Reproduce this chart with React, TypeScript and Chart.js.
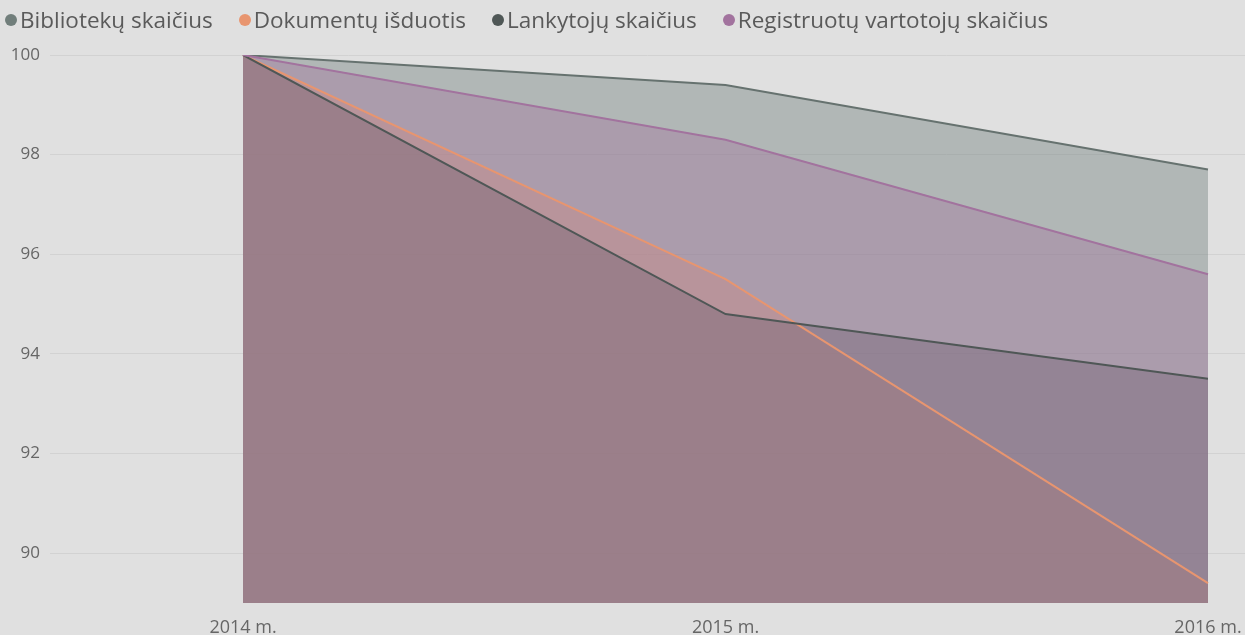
import React, { useEffect, useRef } from "react";
import { Chart, registerables } from "chart.js";

Chart.register(...registerables);

const categories = ["2014 m.", "2015 m.", "2016 m."];
const seriesNames = [
  "Bibliotekų skaičius",
  "Dokumentų išduotis",
  "Lankytojų skaičius",
  "Registruotų vartotojų skaičius",
];
const bibliotekos = [100, 99.4, 97.7];
const dokumentai = [100, 95.5, 89.4];
const lankytojai = [100, 94.8, 93.5];
const registruoti = [100, 98.3, 95.6];
const yTicks = [90, 92, 94, 96, 98, 100];

const lineColors = ["#66726f", "#e8956f", "#4f5756", "#a2739e"];
const fillColors = [
  "rgba(107,122,120,0.4)",
  "rgba(232,149,111,0.4)",
  "rgba(79,85,84,0.4)",
  "rgba(162,115,158,0.4)",
];
const dotColors = ["#717e7b", "#e8956f", "#4f5756", "#a2739e"];

const FONT = "'Open Sans', 'Noto Sans', sans-serif";

export default function App() {
  const ref = useRef<HTMLCanvasElement | null>(null);

  useEffect(() => {
    document.body.style.margin = "0";
    const values = [bibliotekos, dokumentai, lankytojai, registruoti];
    const chart = new Chart(ref.current as HTMLCanvasElement, {
      type: "line",
      data: {
        datasets: values.map((arr, i) => ({
          label: seriesNames[i],
          data: arr.map((v, j) => ({ x: j, y: v })),
          borderColor: lineColors[i],
          backgroundColor: fillColors[i],
          borderWidth: 2,
          pointRadius: 0,
          tension: 0,
          fill: "start",
          order: 3 - i,
        })),
      },
      options: {
        animation: false,
        responsive: false,
        maintainAspectRatio: false,
        layout: { padding: { top: 55, left: 0, right: 0, bottom: 0 } },
        plugins: {
          legend: { display: false },
          tooltip: { enabled: false },
          filler: { drawTime: "beforeDatasetsDraw" },
        } as any,
        scales: {
          x: {
            type: "linear",
            min: -0.4,
            max: 2.0767,
            grid: { display: false, drawTicks: false },
            border: { display: false },
            afterBuildTicks: (scale: any) => {
              scale.ticks = categories.map((_, i) => ({ value: i }));
            },
            afterFit: (scale: any) => {
              scale.height = 32;
              scale.paddingLeft = 0;
              scale.paddingRight = 0;
            },
            ticks: {
              autoSkip: false,
              maxRotation: 0,
              padding: 14,
              color: "#666666",
              font: { family: FONT, size: 18 },
              callback: (v: any) => categories[v] ?? "",
            },
          },
          y: {
            min: 89,
            max: 100,
            grid: { color: "#d2d2d2", lineWidth: 1, drawTicks: false },
            border: { display: false },
            afterBuildTicks: (scale: any) => {
              scale.ticks = yTicks.map((v) => ({ value: v }));
            },
            afterFit: (scale: any) => {
              scale.width = 50;
            },
            ticks: {
              padding: 10,
              color: "#666666",
              font: { family: FONT, size: 17 },
            },
          },
        },
      },
    });
    return () => chart.destroy();
  }, []);

  return (
    <div
      style={{
        position: "fixed",
        left: 0,
        top: 0,
        width: 1245,
        height: 635,
        background: "#e0e0e0",
        overflow: "hidden",
      }}
    >
      <canvas ref={ref} width={1245} height={635} style={{ position: "absolute", left: 0, top: 0 }} />
      <div
        style={{
          position: "absolute",
          left: 5,
          top: 4,
          display: "flex",
          fontFamily: FONT,
          fontSize: 22.5,
          color: "#5a5a5a",
          whiteSpace: "nowrap",
        }}
      >
        {seriesNames.map((n, i) => (
          <span key={n} style={{ display: "flex", alignItems: "center", marginRight: 26 }}>
            <span
              style={{
                width: 12,
                height: 12,
                borderRadius: 6,
                background: dotColors[i],
                marginRight: 3,
                display: "inline-block",
              }}
            />
            {n}
          </span>
        ))}
      </div>
    </div>
  );
}
